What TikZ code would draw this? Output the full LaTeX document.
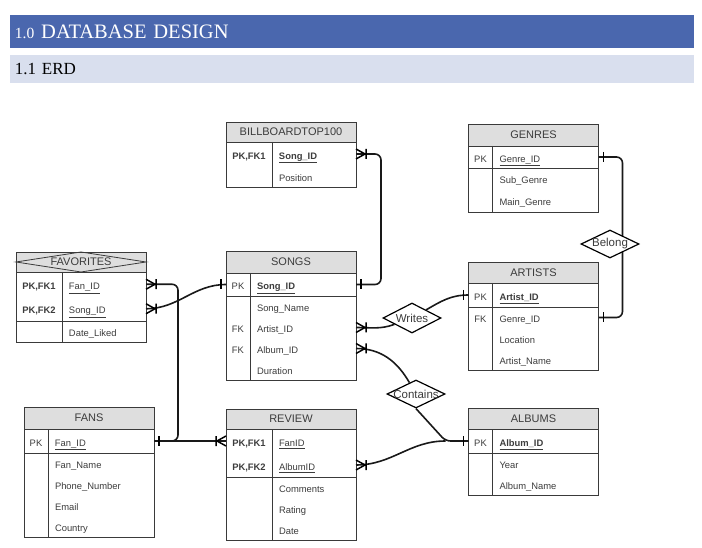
\documentclass[tikz,border=0pt]{standalone}
\usepackage{fontspec}
\setmainfont{Liberation Sans}
\newfontfamily\titlefont{Liberation Serif}
\usetikzlibrary{positioning}
\usetikzlibrary{shapes.geometric}
\definecolor{barblue}{HTML}{4A67AE}
\definecolor{barlight}{HTML}{D9DFEE}
\definecolor{headgray}{HTML}{DEDEDE}
\definecolor{tabgray}{HTML}{3A3A3A}
\definecolor{txtgray}{HTML}{3C3C3C}
\tikzset{
  crowsfoot/.pic={\draw[line width=1.5pt] (0pt,5pt) -- (9pt,0pt) -- (0pt,-5pt) (10pt,5pt) -- (10pt,-5pt);},
  onebar/.pic={\draw[line width=1.5pt] (5pt,5pt) -- (5pt,-5pt);}
}
\tikzstyle{tabhead} = [draw=tabgray,
fill=headgray,
line width=0.8pt,
inner sep=0pt, outer sep=0pt,
minimum width=130pt,
font=\fontsize{11}{13}\selectfont,
text=txtgray]
\tikzstyle{row} = [inner sep=0pt, outer sep=0pt,
text width=130pt, align=left,
text height=10.5pt, text depth=0pt,
minimum height=21pt,
font=\fontsize{9.4}{11}\selectfont,
text=txtgray]
\tikzstyle{tabline} = [draw=tabgray, line width=0.8pt]
\tikzstyle{link} = [draw, line width=1.6pt, black!90]

\begin{document}
\begin{tikzpicture}[x=1pt, y=1pt,
	rel/.style={draw=black, fill=white, diamond, line width=1.2pt,
		inner sep=0pt, minimum width=58pt, minimum height=28pt,
		label={[font=\fontsize{11.5}{13}\selectfont, text=txtgray]center:#1}}]
	\useasboundingbox (0,0) rectangle (702,547);
	%% Headings
	\node[fill=barblue, text=white, minimum height=33pt, text width=674pt, inner xsep=5pt, align=left, font=\titlefont\fontsize{20.5}{22}\selectfont] (title) at (352,515.5) {{\fontsize{15.5}{17}\selectfont 1.0} DATABASE DESIGN};
	\node[fill=barlight, text=black, minimum height=28pt, text width=674pt, inner xsep=5pt, align=left, font=\titlefont\fontsize{17}{19}\selectfont] (erd) at (352,478) {1.1 ERD};
	%% BILLBOARDTOP100
	\node[tabhead, minimum height=20pt] (bb) at (291,415) {BILLBOARDTOP100};
	\node[row, minimum height=24pt, below=0pt of bb] (bb-id) {\makebox[46pt]{\textbf{PK,FK1}}\hspace{7pt}\underline{\textbf{Song\_ID}}};
	\node[row, below=0pt of bb-id] (bb-pos) {\makebox[46pt]{}\hspace{7pt}Position};
	\draw[tabline] (bb.south west) rectangle (bb-pos.south east);
	\draw[tabline] ([xshift=46pt]bb.south west) -- ([xshift=46pt]bb-pos.south west);
	%% GENRES
	\node[tabhead, minimum height=22pt] (gen) at (533.5,412) {GENRES};
	\node[row, minimum height=22pt, below=0pt of gen] (gen-id) {\makebox[24pt]{PK}\hspace{7pt}\underline{Genre\_ID}};
	\node[row, below=0pt of gen-id] (gen-sub) {\makebox[24pt]{}\hspace{7pt}Sub\_Genre};
	\node[row, minimum height=23pt, below=0pt of gen-sub] (gen-main) {\makebox[24pt]{}\hspace{7pt}Main\_Genre};
	\draw[tabline] (gen.south west) rectangle (gen-main.south east);
	\draw[tabline] (gen-id.south west) -- (gen-id.south east);
	\draw[tabline] ([xshift=24pt]gen.south west) -- ([xshift=24pt]gen-main.south west);
	%% FAVORITES
	\node[tabhead, minimum height=20pt] (fav) at (81,285) {FAVORITES};
	\draw[tabline] (fav.west) -- (fav.north) -- (fav.east) -- (fav.south) -- cycle;
	\node[row, minimum height=24.5pt, below=0pt of fav] (fav-fan) {\makebox[46pt]{\textbf{PK,FK1}}\hspace{7pt}\underline{Fan\_ID}};
	\node[row, minimum height=24.5pt, below=0pt of fav-fan] (fav-song) {\makebox[46pt]{\textbf{PK,FK2}}\hspace{7pt}\underline{Song\_ID}};
	\node[row, below=0pt of fav-song] (fav-date) {\makebox[46pt]{}\hspace{7pt}Date\_Liked};
	\draw[tabline] (fav.south west) rectangle (fav-date.south east);
	\draw[tabline] (fav-song.south west) -- (fav-song.south east);
	\draw[tabline] ([xshift=46pt]fav.south west) -- ([xshift=46pt]fav-date.south west);
	%% SONGS
	\node[tabhead, minimum height=22pt] (songs) at (291,285) {SONGS};
	\node[row, minimum height=23pt, below=0pt of songs] (songs-id) {\makebox[24pt]{PK}\hspace{7pt}\underline{\textbf{Song\_ID}}};
	\node[row, below=0pt of songs-id] (songs-name) {\makebox[24pt]{}\hspace{7pt}Song\_Name};
	\node[row, below=0pt of songs-name] (songs-art) {\makebox[24pt]{FK}\hspace{7pt}Artist\_ID};
	\node[row, below=0pt of songs-art] (songs-alb) {\makebox[24pt]{FK}\hspace{7pt}Album\_ID};
	\node[row, below=0pt of songs-alb] (songs-dur) {\makebox[24pt]{}\hspace{7pt}Duration};
	\draw[tabline] (songs.south west) rectangle (songs-dur.south east);
	\draw[tabline] (songs-id.south west) -- (songs-id.south east);
	\draw[tabline] ([xshift=24pt]songs.south west) -- ([xshift=24pt]songs-dur.south west);
	%% ARTISTS
	\node[tabhead, minimum height=21pt] (art) at (533.5,274.5) {ARTISTS};
	\node[row, minimum height=24pt, below=0pt of art] (art-id) {\makebox[24pt]{PK}\hspace{7pt}\underline{\textbf{Artist\_ID}}};
	\node[row, below=0pt of art-id] (art-gen) {\makebox[24pt]{FK}\hspace{7pt}Genre\_ID};
	\node[row, below=0pt of art-gen] (art-loc) {\makebox[24pt]{}\hspace{7pt}Location};
	\node[row, below=0pt of art-loc] (art-name) {\makebox[24pt]{}\hspace{7pt}Artist\_Name};
	\draw[tabline] (art.south west) rectangle (art-name.south east);
	\draw[tabline] (art-id.south west) -- (art-id.south east);
	\draw[tabline] ([xshift=24pt]art.south west) -- ([xshift=24pt]art-name.south west);
	%% FANS
	\node[tabhead, minimum height=22pt] (fans) at (89,129) {FANS};
	\node[row, minimum height=24pt, below=0pt of fans] (fans-id) {\makebox[24pt]{PK}\hspace{7pt}\underline{Fan\_ID}};
	\node[row, below=0pt of fans-id] (fans-name) {\makebox[24pt]{}\hspace{7pt}Fan\_Name};
	\node[row, below=0pt of fans-name] (fans-phone) {\makebox[24pt]{}\hspace{7pt}Phone\_Number};
	\node[row, below=0pt of fans-phone] (fans-mail) {\makebox[24pt]{}\hspace{7pt}Email};
	\node[row, below=0pt of fans-mail] (fans-cty) {\makebox[24pt]{}\hspace{7pt}Country};
	\draw[tabline] (fans.south west) rectangle (fans-cty.south east);
	\draw[tabline] (fans-id.south west) -- (fans-id.south east);
	\draw[tabline] ([xshift=24pt]fans.south west) -- ([xshift=24pt]fans-cty.south west);
	%% REVIEW
	\node[tabhead, minimum height=20pt] (rev) at (291,128) {REVIEW};
	\node[row, minimum height=24pt, below=0pt of rev] (rev-fan) {\makebox[46pt]{\textbf{PK,FK1}}\hspace{7pt}\underline{FanID}};
	\node[row, minimum height=24pt, below=0pt of rev-fan] (rev-alb) {\makebox[46pt]{\textbf{PK,FK2}}\hspace{7pt}\underline{AlbumID}};
	\node[row, below=0pt of rev-alb] (rev-com) {\makebox[46pt]{}\hspace{7pt}Comments};
	\node[row, below=0pt of rev-com] (rev-rate) {\makebox[46pt]{}\hspace{7pt}Rating};
	\node[row, below=0pt of rev-rate] (rev-date) {\makebox[46pt]{}\hspace{7pt}Date};
	\draw[tabline] (rev.south west) rectangle (rev-date.south east);
	\draw[tabline] (rev-alb.south west) -- (rev-alb.south east);
	\draw[tabline] ([xshift=46pt]rev.south west) -- ([xshift=46pt]rev-date.south west);
	%% ALBUMS
	\node[tabhead, minimum height=21pt] (alb) at (533.5,128.5) {ALBUMS};
	\node[row, minimum height=24pt, below=0pt of alb] (alb-id) {\makebox[24pt]{PK}\hspace{7pt}\underline{\textbf{Album\_ID}}};
	\node[row, below=0pt of alb-id] (alb-year) {\makebox[24pt]{}\hspace{7pt}Year};
	\node[row, below=0pt of alb-year] (alb-name) {\makebox[24pt]{}\hspace{7pt}Album\_Name};
	\draw[tabline] (alb.south west) rectangle (alb-name.south east);
	\draw[tabline] (alb-id.south west) -- (alb-id.south east);
	\draw[tabline] ([xshift=24pt]alb.south west) -- ([xshift=24pt]alb-name.south west);
	%% Relationships
	\node[rel=Writes, minimum height=30pt] (writes) at (412,229) {};
	\node[rel=Contains] (contains) at (416,153) {};
	\coordinate (albjoin) at ([xshift=-23pt]alb-id.west);
	\path[link, rounded corners=6pt] (bb-id.east) -- ++(25,0) |- (songs-id.east);
	\path[link, rounded corners=6pt] (gen-id.east) -- ++(24,0) |- (art-gen.east);
	\node[rel=Belong] (belong) at (610,303) {};
	\path[link, rounded corners=6pt] (fav-fan.east) -- ++(32,0) |- (fans-id.east);
	\path[link] (fans-id.east) -- (rev-fan.west);
	\path[link] (fav-song.east) to[out=0, in=180] (songs-id.west);
	\path[link] (songs-art.east) to[out=0, in=200] (writes) to[out=30, in=180] (art-id.west);
	\path[link] (songs-alb.east) to[out=0, in=120] (contains);
	\path[link, rounded corners=5pt] (contains.south) -- (albjoin) -- (alb-id.west);
	\path[link] (rev-alb.east) to[out=0, in=180] (albjoin);
	%% Ends
	\pic at (bb-id.east) {crowsfoot};
	\pic at (songs-id.east) {onebar};
	\pic at (gen-id.east) {onebar};
	\pic at (art-gen.east) {onebar};
	\pic at (fav-fan.east) {crowsfoot};
	\pic at (fav-song.east) {crowsfoot};
	\pic at (fans-id.east) {onebar};
	\pic[xscale=-1] at (rev-fan.west) {crowsfoot};
	\pic[xscale=-1] at (songs-id.west) {onebar};
	\pic at (songs-art.east) {crowsfoot};
	\pic at (songs-alb.east) {crowsfoot};
	\pic[xscale=-1] at (art-id.west) {onebar};
	\pic[xscale=-1] at (alb-id.west) {onebar};
	\pic at (rev-alb.east) {crowsfoot};
\end{tikzpicture}
\end{document}
